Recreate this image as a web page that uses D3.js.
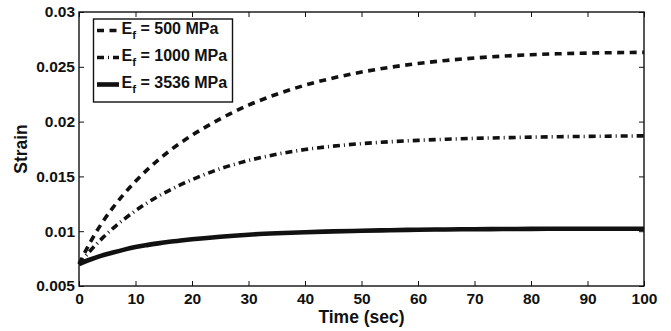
<!DOCTYPE html>
<html>
<head>
<meta charset="utf-8">
<script src="https://cdn.jsdelivr.net/npm/d3@7/dist/d3.min.js"></script>
<style>
  html, body { margin: 0; padding: 0; background: #fff; }
  svg text { font-family: "Liberation Sans", Arial, Helvetica, sans-serif; font-weight: bold; fill: #111; }
</style>
</head>
<body>
<svg id="chart" width="671" height="331"></svg>
<script>
// Creep strain vs. time for three fibre moduli
const time = [0, 2, 4, 6, 8, 10, 12, 14, 16, 18, 20, 25, 30, 35, 40, 45, 50, 55, 60, 65, 70, 75, 80, 85, 90, 95, 100];
const strain500 = [0.00700, 0.00900, 0.01070, 0.01215, 0.01342, 0.01455, 0.01557, 0.01649, 0.01732, 0.01807, 0.01875, 0.02025, 0.02150, 0.02250, 0.02332, 0.02398, 0.02452, 0.02495, 0.02530, 0.02558, 0.02580, 0.02597, 0.02610, 0.02619, 0.02625, 0.02629, 0.02632];
const strain1000 = [0.00700, 0.00822, 0.00930, 0.01025, 0.01110, 0.01187, 0.01256, 0.01318, 0.01373, 0.01424, 0.01470, 0.01570, 0.01645, 0.01702, 0.01745, 0.01776, 0.01799, 0.01816, 0.01829, 0.01839, 0.01847, 0.01853, 0.01858, 0.01862, 0.01865, 0.01868, 0.01870];
const strain3536 = [0.00700, 0.00742, 0.00777, 0.00806, 0.00832, 0.00855, 0.00873, 0.00889, 0.00903, 0.00915, 0.00926, 0.00950, 0.00968, 0.00981, 0.00991, 0.00998, 0.01004, 0.01009, 0.01013, 0.01016, 0.01018, 0.01020, 0.01021, 0.01022, 0.01022, 0.01023, 0.01023];
const moduli = ["500", "1000", "3536"];
const xTicks = [0, 10, 20, 30, 40, 50, 60, 70, 80, 90, 100];
const yTicks = [0.005, 0.01, 0.015, 0.02, 0.025, 0.03];
const yTickLabels = ["0.005", "0.01", "0.015", "0.02", "0.025", "0.03"];

const svg = d3.select("#chart");
const W = 671, H = 331;
const m = { top: 12, right: 27, bottom: 45, left: 79 };
const iw = W - m.left - m.right, ih = H - m.top - m.bottom;

const x = d3.scaleLinear().domain([0, 100]).range([0, iw]);
const y = d3.scaleLinear().domain([0.005, 0.03]).range([ih, 0]);

const g = svg.append("g").attr("transform", `translate(${m.left},${m.top})`);

// line styles per series
const styles = [
  { values: strain500, width: 3.6, dash: "7,5.5" },
  { values: strain1000, width: 3.6, dash: "7,4,1,4" },
  { values: strain3536, width: 4.6, dash: null }
];

const line = d3.line()
  .x((d, i) => x(time[i]))
  .y(d => y(d))
  .curve(d3.curveMonotoneX);

styles.forEach(s => {
  g.append("path")
    .datum(s.values)
    .attr("d", line)
    .attr("fill", "none")
    .attr("stroke", "#111")
    .attr("stroke-width", s.width)
    .attr("stroke-linecap", "butt")
    .attr("stroke-dasharray", s.dash);
});

// axes with inward ticks on all four sides
const fs = "15.5px";
g.append("g").attr("transform", `translate(0,${ih})`)
  .call(d3.axisBottom(x).tickValues(xTicks).tickSizeInner(-5).tickSizeOuter(0).tickPadding(7));
g.append("g")
  .call(d3.axisLeft(y).tickValues(yTicks).tickFormat((d, i) => yTickLabels[i]).tickSizeInner(-5).tickSizeOuter(0).tickPadding(4));
g.append("g")
  .call(d3.axisTop(x).tickValues(xTicks).tickFormat("").tickSizeInner(-5).tickSizeOuter(0));
g.append("g").attr("transform", `translate(${iw},0)`)
  .call(d3.axisRight(y).tickValues(yTicks).tickFormat("").tickSizeInner(-5).tickSizeOuter(0));

g.selectAll(".domain").remove();
g.selectAll(".tick line").attr("stroke", "#111").attr("stroke-width", 1);
g.selectAll(".tick text").style("font-size", fs).style("font-family", null).attr("fill", "#111");

g.append("rect")
  .attr("x", 0).attr("y", 0).attr("width", iw).attr("height", ih)
  .attr("fill", "none").attr("stroke", "#111").attr("stroke-width", 1.4);

// axis titles
svg.append("text")
  .attr("x", m.left + iw / 2).attr("y", 323)
  .attr("text-anchor", "middle")
  .style("font-size", "17.5px")
  .text("Time (sec)");
svg.append("text")
  .attr("transform", `translate(27,${m.top + ih / 2}) rotate(-90)`)
  .attr("text-anchor", "middle")
  .style("font-size", "17.5px")
  .text("Strain");

// legend
const lg = svg.append("g");
lg.append("rect")
  .attr("x", 93.5).attr("y", 19).attr("width", 139).attr("height", 83)
  .attr("fill", "#fff").attr("stroke", "#111").attr("stroke-width", 1.4);

const rowBase = [33.5, 60.5, 87.5];
styles.forEach((s, i) => {
  const ly = rowBase[i] - 3;
  lg.append("line")
    .attr("x1", 97).attr("x2", 119).attr("y1", ly).attr("y2", ly)
    .attr("stroke", "#111")
    .attr("stroke-width", s.width)
    .attr("stroke-linecap", "butt")
    .attr("stroke-dasharray", s.dash);
  const t = lg.append("text")
    .attr("x", 121.5).attr("y", rowBase[i])
    .style("font-size", "16px");
  t.append("tspan").text("E");
  t.append("tspan").attr("dy", 5).style("font-size", "11.5px").text("f");
  t.append("tspan").attr("dy", -5).text(` = ${moduli[i]} MPa`);
});
</script>
</body>
</html>
